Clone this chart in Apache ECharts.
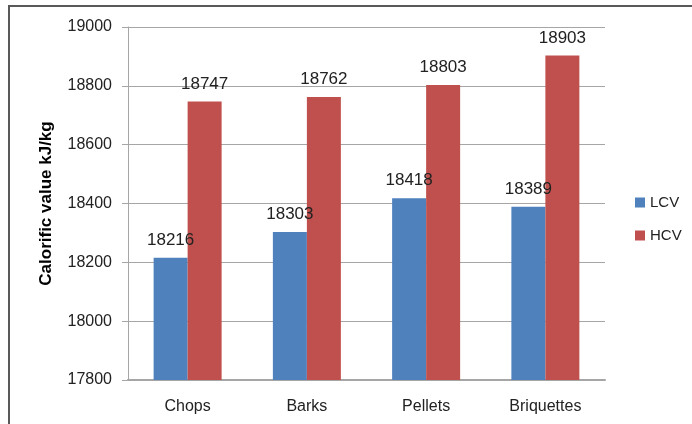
<!DOCTYPE html>
<html>
<head>
<meta charset="utf-8">
<style>
html,body{margin:0;padding:0;background:#fff;}
#frame{position:absolute;left:8px;top:5px;width:700px;height:430px;border:2px solid #595959;box-sizing:border-box;}
#main{position:absolute;left:0;top:0;width:692px;height:424px;}
</style>
<script src="https://cdn.jsdelivr.net/npm/echarts@6/dist/echarts.min.js"></script>
</head>
<body>
<div id="frame"></div>
<div id="main"></div>
<script>
var categories = ['Chops', 'Barks', 'Pellets', 'Briquettes'];
var lcvValues = [18216, 18303, 18418, 18389];
var hcvValues = [18747, 18762, 18803, 18903];

var chart = echarts.init(document.getElementById('main'));
var font = 'Liberation Sans';

var options = {
    animation: false,
    grid: { left: 128, right: 87, top: 27, bottom: 44 },
    legend: {
        orient: 'vertical',
        left: 630,
        top: 190,
        itemWidth: 10,
        itemHeight: 10,
        itemGap: 18,
        icon: 'rect',
        textStyle: { fontFamily: font, fontSize: 15, color: '#222' },
        data: ['LCV', 'HCV']
    },
    xAxis: {
        type: 'category',
        data: categories,
        axisLine: { lineStyle: { color: '#A6A6A6', width: 2 } },
        axisTick: { show: false },
        axisLabel: { fontFamily: font, fontSize: 16, color: '#222', margin: 19 }
    },
    yAxis: {
        type: 'value',
        min: 17800,
        max: 19000,
        interval: 200,
        name: 'Calorific value kJ/kg',
        nameLocation: 'middle',
        nameGap: 73,
        nameTextStyle: { fontFamily: font, fontSize: 17, fontWeight: 'bold', color: '#000' },
        axisLine: { show: true, lineStyle: { color: '#A6A6A6', width: 1 } },
        axisTick: { show: true, length: 6, lineStyle: { color: '#A6A6A6' } },
        axisLabel: {
            fontFamily: font, fontSize: 16, color: '#222', margin: 16,
            formatter: function (v) { return String(v); }
        },
        splitLine: { lineStyle: { color: '#A6A6A6' } }
    },
    series: [
        {
            name: 'LCV',
            type: 'bar',
            data: lcvValues,
            barWidth: 34,
            barGap: '0%',
            itemStyle: { color: '#4F81BD' },
            label: { show: true, position: 'top', distance: 9, fontFamily: font, fontSize: 17, color: '#222' }
        },
        {
            name: 'HCV',
            type: 'bar',
            data: hcvValues,
            barWidth: 34,
            barGap: '0%',
            itemStyle: { color: '#C0504D' },
            label: { show: true, position: 'top', distance: 9, fontFamily: font, fontSize: 17, color: '#222' }
        }
    ]
};

chart.setOption(options);
</script>
</body>
</html>
